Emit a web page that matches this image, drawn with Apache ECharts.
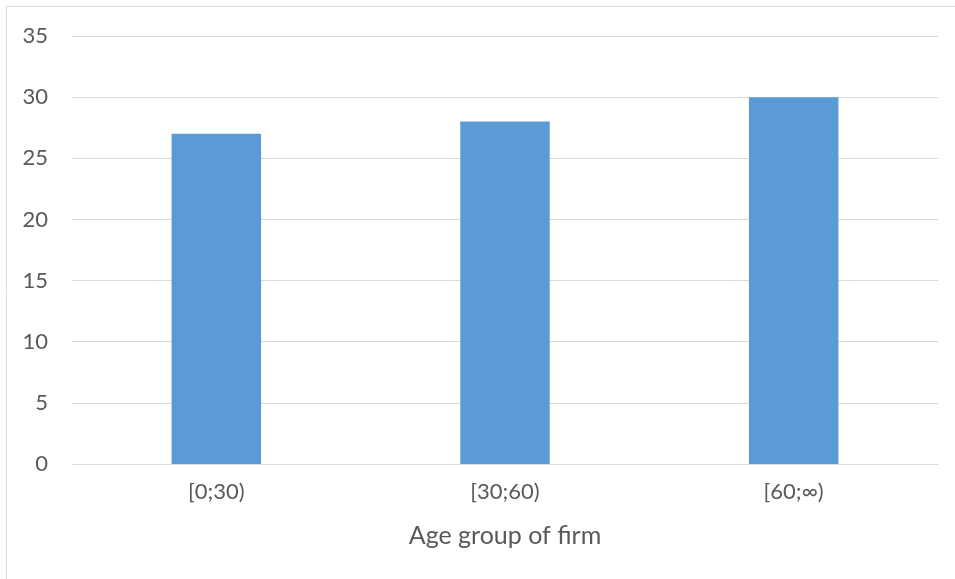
<!DOCTYPE html>
<html>
<head>
<meta charset="utf-8">
<style>
  html, body { margin: 0; padding: 0; background: #ffffff; }
  #chart { width: 955px; height: 579px; }
</style>
<script src="https://cdn.jsdelivr.net/npm/echarts@6/dist/echarts.min.js"></script>
</head>
<body>
<div id="chart"></div>
<script>
// Age groups and their values
const categories = ['[0;30)', '[30;60)', '[60;∞)'];
const values = [27, 28, 30];
const axisTitle = 'Age group of firm';

const chart = echarts.init(document.getElementById('chart'), null, { renderer: 'canvas' });

const labelFont = 'Lato, "Liberation Sans", sans-serif';

chart.setOption({
  animation: false,
  backgroundColor: '#ffffff',
  graphic: [
    { type: 'line', shape: { x1: 6.5, y1: 6.5, x2: 955, y2: 6.5 }, style: { stroke: '#d9d9d9', lineWidth: 1 } },
    { type: 'line', shape: { x1: 6.5, y1: 6.5, x2: 6.5, y2: 579 }, style: { stroke: '#d9d9d9', lineWidth: 1 } }
  ],
  grid: { left: 72, right: 17, top: 36, bottom: 115, containLabel: false },
  xAxis: {
    type: 'category',
    data: categories,
    name: axisTitle,
    nameLocation: 'middle',
    nameGap: 59,
    nameTextStyle: { fontFamily: labelFont, fontSize: 25, color: '#595959' },
    axisLine: { show: true, lineStyle: { color: '#d9d9d9', width: 1 } },
    axisTick: { show: false },
    axisLabel: { fontFamily: labelFont, fontSize: 22, color: '#595959', margin: 17 }
  },
  yAxis: {
    type: 'value',
    min: 0,
    max: 35,
    interval: 5,
    axisLine: { show: false },
    axisTick: { show: false },
    splitLine: { lineStyle: { color: '#d9d9d9', width: 1 } },
    axisLabel: { fontFamily: labelFont, fontSize: 22, color: '#595959', margin: 24 }
  },
  series: [{
    type: 'bar',
    data: values,
    barWidth: '31%',
    itemStyle: { color: '#5b9bd5' }
  }]
});
</script>
</body>
</html>
